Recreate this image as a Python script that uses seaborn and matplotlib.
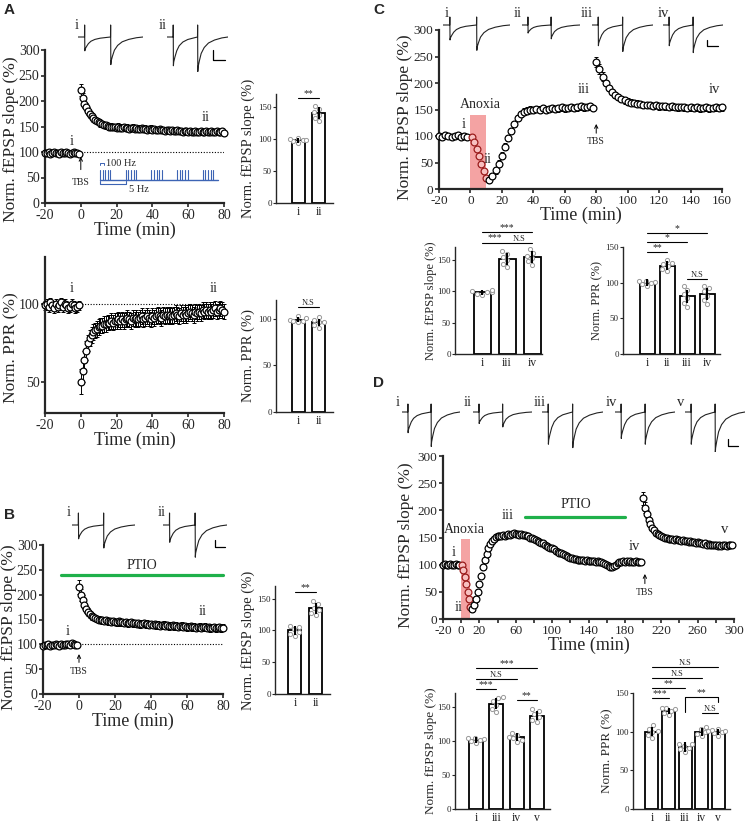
import numpy as np
import pandas as pd
import matplotlib
matplotlib.use("Agg")
import matplotlib.pyplot as plt
import seaborn as sns

# ---------------- DATA ----------------
# Panel A top: fEPSP slope time course (TBS at 0)
a_base_t = np.arange(-20, 0)
a_base = [99, 98, 100, 97, 99, 100, 98, 99, 97, 100, 99, 98, 100, 99, 97, 98, 100, 99, 98, 96]
a_post_t = np.arange(0, 81)
a_post = [222, 205, 195, 188, 180, 174, 170, 166, 162, 160,
          158, 156, 155, 153, 152, 151, 150, 150, 149, 149,
          148, 150, 148, 147, 149, 147, 148, 146, 147, 148,
          146, 147, 145, 146, 147, 145, 146, 144, 145, 146,
          144, 145, 143, 144, 145, 143, 144, 142, 143, 144,
          142, 143, 141, 142, 143, 141, 142, 140, 141, 142,
          140, 141, 139, 140, 141, 139, 140, 141, 139, 140,
          141, 139, 140, 141, 139, 140, 141, 139, 140, 141,
          138]
a_err = [4] * 20 + [12, 10, 9, 8, 8, 7, 7, 7, 6, 6] + [6] * 71

# Panel A bottom: PPR time course
p_base = [99, 100, 98, 101, 99, 97, 100, 98, 99, 101, 98, 100, 99, 97, 98, 100, 99, 97, 98, 99]
p_post = [50, 57, 64, 70, 75, 78, 80, 82, 83, 84,
          85, 86, 86, 87, 87, 88, 88, 89, 88, 89,
          89, 90, 89, 90, 89, 90, 91, 90, 89, 91,
          90, 91, 90, 91, 92, 90, 91, 92, 91, 90,
          92, 91, 92, 93, 92, 91, 93, 92, 93, 92,
          93, 92, 93, 94, 93, 92, 94, 93, 94, 93,
          94, 95, 94, 93, 95, 94, 95, 94, 96, 95,
          96, 95, 96, 95, 96, 97, 95, 96, 97, 96,
          95]
p_err = [3] * 20 + [8, 7, 6, 6, 5, 5, 5, 5, 5, 5] + [5] * 71

# Panel B: fEPSP slope with PTIO
b_base = [97, 99, 98, 100, 96, 99, 98, 101, 99, 97, 100, 98, 99, 101, 100, 98, 102, 100, 99, 98]
b_post = [215, 200, 190, 180, 172, 166, 161, 157, 155, 153,
          151, 150, 149, 148, 147, 148, 146, 147, 145, 146,
          145, 144, 146, 144, 145, 143, 144, 142, 143, 144,
          142, 143, 141, 142, 140, 141, 142, 140, 141, 139,
          140, 139, 140, 138, 139, 137, 138, 139, 137, 138,
          136, 137, 138, 136, 137, 135, 136, 137, 135, 136,
          134, 135, 136, 134, 135, 133, 134, 135, 133, 134,
          135, 133, 134, 132, 133, 134, 132, 133, 134, 132,
          133]
b_err = [4] * 20 + [14, 12, 10, 9, 8, 8, 7, 7, 7, 7] + [7] * 71

# Panel C: anoxia then TBS
c_base_t = np.arange(-20, 0, 2)
c_base = [100, 99, 101, 100, 98, 100, 101, 99, 100, 98]
c_anox_t = [1, 2.5, 4, 5.5, 7, 8.5, 10]
c_anox = [98, 88, 75, 62, 48, 34, 20]
c_rec_t = np.arange(12, 80, 2)
c_rec = [17, 24, 35, 48, 63, 80, 96, 110, 123, 134,
         142, 146, 148, 150, 149, 151, 150, 152, 150, 151,
         153, 151, 152, 154, 152, 153, 155, 153, 154, 156,
         154, 155, 157, 153]
c_tbs_t = np.arange(80, 161, 2)
c_tbs = [240, 226, 212, 200, 190, 183, 177, 173, 170, 167,
         165, 163, 162, 161, 160, 159, 159, 158, 157, 158,
         156, 157, 156, 155, 156, 155, 154, 155, 154, 153,
         154, 153, 154, 152, 153, 154, 152, 153, 154, 153,
         154]

# Panel D: anoxia, PTIO, TBS
d_base_t = np.arange(-20, 0, 2)
d_base = [100, 101, 99, 100, 102, 100, 99, 101, 100, 99]
d_anox_t = [1, 2.5, 4, 5.5, 7, 8.5, 10]
d_anox = [100, 90, 78, 64, 50, 36, 22]
d_rec_t = np.arange(12, 200, 2)
d_rec = [18, 25, 36, 50, 65, 80, 95, 108, 120, 130,
         138, 144, 148, 151, 152, 153, 152, 154, 153, 155,
         156, 155, 157, 158, 157, 156, 155, 156, 154, 155,
         153, 152, 150, 149, 147, 146, 144, 142, 140, 139,
         137, 135, 133, 131, 130, 128, 126, 124, 122, 121,
         119, 117, 116, 115, 113, 112, 111, 110, 109, 109,
         108, 108, 107, 108, 107, 106, 107, 106, 105, 106,
         105, 104, 103, 101, 99, 97, 96, 95, 97, 100,
         103, 104, 105, 106, 105, 106, 105, 106, 104, 105,
         106, 105, 104, 105]
d_tbs_t = np.arange(200, 300, 2)
d_tbs = [222, 205, 193, 183, 175, 168, 163, 159, 156, 154,
         152, 151, 150, 149, 148, 148, 147, 146, 147, 145,
         146, 144, 145, 143, 144, 142, 143, 141, 142, 140,
         141, 139, 140, 138, 139, 137, 138, 137, 136, 137,
         136, 135, 136, 135, 136, 137, 135, 136, 137, 136]

# Bar graphs: individual values and SEM
abar_cats = ["i", "ii"]
abar_vals = [[94, 96, 98, 100, 102, 98], [128, 133, 138, 142, 147, 152]]
abar_err = [4, 9]
apbar_vals = [[96, 98, 99, 101, 103, 97], [90, 93, 96, 99, 102, 96]]
apbar_err = [3, 4]
bbar_vals = [[92, 95, 98, 102, 106, 107], [125, 128, 132, 136, 142, 147]]
bbar_err = [7, 9]
cbar1_cats = ["i", "iii", "iv"]
cbar1_vals = [[94, 96, 98, 99, 101, 100], [138, 143, 149, 154, 159, 163], [142, 147, 152, 156, 160, 167]]
cbar1_err = [4, 9, 9]
cbar2_cats = ["i", "ii", "iii", "iv"]
cbar2_vals = [[96, 98, 100, 101, 102, 103], [116, 119, 123, 126, 128, 132],
              [66, 72, 78, 84, 90, 96], [70, 76, 82, 88, 92, 96]]
cbar2_err = [5, 6, 9, 8]
dbar1_cats = ["i", "iii", "iv", "v"]
dbar1_vals = [[96, 99, 101, 102, 104, 104], [142, 146, 152, 158, 162, 164],
              [98, 101, 104, 106, 109, 112], [128, 131, 135, 139, 143, 146]]
dbar1_err = [4, 8, 6, 7]
dbar2_cats = ["i", "ii", "iii", "iv", "v"]
dbar2_vals = [[92, 96, 99, 101, 104, 108], [121, 124, 127, 129, 130, 131],
              [74, 77, 79, 82, 84, 84], [94, 97, 99, 101, 103, 106], [95, 98, 100, 101, 102, 104]]
dbar2_err = [6, 4, 6, 5, 4]

# Example traces: (first, second) response amplitudes (arbitrary units)
tpl_t = [0.00, 0.10, 0.102, 0.105, 0.11, 0.13, 0.16, 0.20, 0.26, 0.34, 0.45,
         0.50, 0.502, 0.505, 0.51, 0.53, 0.56, 0.61, 0.68, 0.78, 0.90, 1.00]
tpl_s1 = [0, 0, 0, -1.15, -1.0, -0.8, -0.55, -0.35, -0.2, -0.1, -0.03] + [0] * 11
tpl_s2 = [0] * 11 + [0, 0, -1.15, -1.0, -0.8, -0.55, -0.35, -0.2, -0.1, -0.03, 0]
tpl_art = [0, 0, 1, 0, 0, 0, 0, 0, 0, 0, 0, 0, 1, 0, 0, 0, 0, 0, 0, 0, 0, 0]
amp_A = [(12, 24), (25, 30)]
amp_B = [(12, 20), (15, 28)]
amp_C = [(13, 22), (7, 12), (18, 23), (18, 24)]
amp_D = [(18, 30), (10, 13), (28, 31), (23, 28), (28, 36)]

# ---------------- STYLE ----------------
sns.set_style("ticks")
plt.rcParams["font.family"] = ["Liberation Serif", "DejaVu Serif"]
plt.rcParams["axes.linewidth"] = 1.4
plt.rcParams["axes.unicode_minus"] = False

W, H = 747, 823
fig = plt.figure(figsize=(7.47, 8.23), dpi=100)
GREEN = "#1fb04a"
PINK = "#f4a3a3"
BLUE = "#3d64b4"


def box(x0, x1, ytop, ybot, **kw):
    return fig.add_axes([x0 / W, 1 - ybot / H, (x1 - x0) / W, (ybot - ytop) / H], **kw)


def style_tc(ax, xlim, ylim, xt, yt, lw=1.6, ls=10):
    sns.despine(ax=ax)
    ax.set_xlim(*xlim)
    ax.set_ylim(*ylim)
    ax.set_xticks(xt)
    ax.set_yticks(yt)
    for s in ("left", "bottom"):
        ax.spines[s].set_linewidth(lw)
    ax.tick_params(length=3, width=1.2, labelsize=ls, pad=1)


def tc(ax, t, y, e, fc="white", ec="black"):
    ax.errorbar(t, y, yerr=e, fmt="none", ecolor="black", elinewidth=0.7,
                capsize=1.6, capthick=0.7, zorder=2, clip_on=False)
    sns.scatterplot(x=np.asarray(t, float), y=np.asarray(y, float), ax=ax, marker="o", s=24,
                    facecolor=fc, edgecolor=ec, linewidth=0.9, zorder=3,
                    legend=False, clip_on=False)


def bars(ax, cats, vals, errs, width, ylim, yt, xlim, ylabel, lfs, lx):
    df = pd.DataFrame({"cond": np.repeat(cats, [len(v) for v in vals]),
                       "val": np.concatenate(vals)})
    sns.barplot(data=df, x="cond", y="val", order=cats, errorbar=None, color="white",
                saturation=1, edgecolor="black", linewidth=1.3, width=width, ax=ax, zorder=1)
    sns.swarmplot(data=df, x="cond", y="val", order=cats, color="white", edgecolor="0.6",
                  linewidth=0.7, size=3, ax=ax, zorder=3)
    means = [np.mean(v) for v in vals]
    ax.errorbar(range(len(cats)), means, yerr=errs, fmt="none", ecolor="black",
                elinewidth=1.5, capsize=0, zorder=4)
    sns.despine(ax=ax)
    ax.set_ylim(*ylim)
    ax.set_yticks(yt)
    ax.set_xlim(*xlim)
    ax.set_xlabel("")
    ax.set_ylabel(ylabel, fontsize=lfs)
    ax.yaxis.set_label_coords(lx, 0.5)
    ax.spines["left"].set_linewidth(1.0)
    ax.spines["bottom"].set_linewidth(1.0)
    ax.tick_params(axis="y", length=2, width=0.8, labelsize=6.5, pad=1)
    ax.tick_params(axis="x", length=0, labelsize=8.5, pad=2)


def sig(ax, x1, x2, y, txt, fs=7):
    ax.plot([x1, x2], [y, y], color="black", lw=0.8, clip_on=False)
    ax.text((x1 + x2) / 2, y, txt, ha="center", va="bottom", fontsize=fs, clip_on=False)


def tbs(ax, x, y0, y1, ytxt):
    ax.annotate("", xy=(x, y1), xytext=(x, y0),
                arrowprops=dict(arrowstyle="->", lw=0.7, mutation_scale=6, color="black"))
    ax.text(x, ytxt, "TBS", ha="center", va="center", fontsize=7)


def trace(x0, x1, ybase, a1, a2, art=12):
    ax = box(x0, x1, ybase - 16, ybase + 40)
    ax.set_xlim(0, 1)
    ax.set_ylim(-40, 16)
    ax.axis("off")
    y = [a1 * s1 + a2 * s2 + art * ar for s1, s2, ar in zip(tpl_s1, tpl_s2, tpl_art)]
    sns.lineplot(x=tpl_t, y=y, ax=ax, color="#222222", lw=0.8, sort=False, estimator=None)


# ---------------- PANEL A top ----------------
ax = box(45, 224, 50, 203)
tc(ax, a_base_t, a_base, a_err[:20])
tc(ax, a_post_t, a_post, a_err[20:])
ax.plot([0, 80], [100, 100], ls=(0, (1, 1.5)), color="black", lw=0.8, zorder=1)
style_tc(ax, (-20, 80), (0, 300), range(-20, 81, 20), range(0, 301, 50))
ax.set_xlabel("Time (min)", fontsize=13, labelpad=0)
ax.set_ylabel("Norm. fEPSP slope (%)", fontsize=12.5)
ax.yaxis.set_label_coords(-0.145, 0.42)
ax.text(-5, 120, "i", ha="center", va="center", fontsize=10.5)
ax.text(70, 167, "ii", ha="center", va="center", fontsize=10.5)
tbs(ax, 0, 60, 96, 41)

ax = box(276, 333, 94, 203)
bars(ax, abar_cats, abar_vals, abar_err, 0.62, (0, 170), [0, 50, 100, 150], (-1.05, 1.67),
     "Norm. fEPSP slope (%)", 10.5, -0.37)
sig(ax, 0, 1, 164, "**")

# ---------------- PANEL A bottom ----------------
ax = box(45, 224, 257, 413)
tc(ax, a_base_t, p_base, p_err[:20])
tc(ax, a_post_t, p_post, p_err[20:])
ax.plot([-1, 80], [100, 100], ls=(0, (1, 1.5)), color="black", lw=0.8, zorder=1)
style_tc(ax, (-20, 80), (30, 130), range(-20, 81, 20), [50, 100])
ax.set_xlabel("Time (min)", fontsize=13, labelpad=0)
ax.set_ylabel("Norm. PPR (%)", fontsize=12.5)
ax.yaxis.set_label_coords(-0.145, 0.42)
ax.text(-5, 110, "i", ha="center", va="center", fontsize=10.5)
ax.text(74, 110, "ii", ha="center", va="center", fontsize=10.5)

ax = box(276, 333, 300, 412)
bars(ax, abar_cats, apbar_vals, apbar_err, 0.62, (0, 120), [0, 50, 100], (-1.05, 1.67),
     "Norm. PPR (%)", 10.5, -0.37)
sig(ax, 0, 1, 112, "N.S", fs=6)

# ---------------- PANEL B ----------------
ax = box(43, 223, 545, 694)
tc(ax, a_base_t, b_base, b_err[:20])
tc(ax, a_post_t, b_post, b_err[20:])
ax.plot([0, 80], [100, 100], ls=(0, (1, 1.5)), color="black", lw=0.8, zorder=1)
ax.plot([-10, 80], [240, 240], color=GREEN, lw=2.3, clip_on=False)
ax.text(35, 258, "PTIO", ha="center", va="center", fontsize=10)
style_tc(ax, (-20, 80), (0, 300), range(-20, 81, 20), range(0, 301, 50))
ax.set_xlabel("Time (min)", fontsize=13, labelpad=0)
ax.set_ylabel("Norm. fEPSP slope (%)", fontsize=12.5)
ax.yaxis.set_label_coords(-0.145, 0.45)
ax.text(-6, 125, "i", ha="center", va="center", fontsize=10.5)
ax.text(69, 167, "ii", ha="center", va="center", fontsize=10.5)
tbs(ax, 0, 58, 86, 46)

ax = box(275, 330, 586, 694)
bars(ax, abar_cats, bbar_vals, bbar_err, 0.62, (0, 170), [0, 50, 100, 150], (-0.95, 1.67),
     "Norm. fEPSP slope (%)", 10.5, -0.37)
sig(ax, 0, 1, 160, "**")

# ---------------- PANEL C ----------------
ax = box(439, 722, 30, 189)
ax.fill_between([0, 10], [0, 0], [140, 140], color=PINK, lw=0, zorder=0)
tc(ax, c_base_t, c_base, [4] * len(c_base))
tc(ax, c_anox_t, c_anox, [4] * len(c_anox), fc="#f7c0c0", ec="#9b1c1c")
tc(ax, c_rec_t, c_rec, [6] * len(c_rec))
tc(ax, c_tbs_t, c_tbs, [10, 9, 8] + [6] * (len(c_tbs) - 3))
style_tc(ax, (-20, 160), (0, 300), range(-20, 161, 20), range(0, 301, 50), ls=9.5)
ax.set_xlabel("Time (min)", fontsize=13, labelpad=0)
ax.set_ylabel("Norm. fEPSP slope (%)", fontsize=12.5)
ax.yaxis.set_label_coords(-0.093, 0.45)
ax.text(6.5, 160, "Anoxia", ha="center", va="center", fontsize=10)
ax.text(-4, 121, "i", ha="center", va="center", fontsize=10.5)
ax.text(11, 55, "ii", ha="center", va="center", fontsize=10.5)
ax.text(72, 187, "iii", ha="center", va="center", fontsize=10.5)
ax.text(155, 187, "iv", ha="center", va="center", fontsize=10.5)
tbs(ax, 80, 100, 128, 90)

ax = box(455, 542, 247, 354)
bars(ax, cbar1_cats, cbar1_vals, cbar1_err, 0.68, (0, 170), [0, 50, 100, 150], (-1.08, 2.4),
     "Norm. fEPSP slope (%)", 9, -0.21)
sig(ax, 0, 1, 177, "***")
sig(ax, 1, 2, 177, "N.S", fs=6)
sig(ax, 0, 2, 194, "***")

ax = box(623, 720, 247, 354)
bars(ax, cbar2_cats, cbar2_vals, cbar2_err, 0.75, (0, 150), [0, 50, 100, 150], (-1.2, 3.65),
     "Norm. PPR (%)", 9, -0.2)
sig(ax, 0, 1, 143, "**")
sig(ax, 0, 2, 157, "*")
sig(ax, 0, 3, 170, "*")
sig(ax, 2, 3, 105, "N.S", fs=6)

# ---------------- PANEL D ----------------
ax = box(443, 734, 456, 619)
ax.fill_between([0, 10], [0, 0], [147, 147], color=PINK, lw=0, zorder=0)
tc(ax, d_base_t, d_base, [4] * len(d_base))
tc(ax, d_anox_t, d_anox, [4] * len(d_anox), fc="#f7c0c0", ec="#9b1c1c")
tc(ax, d_rec_t, d_rec, [5] * len(d_rec))
tc(ax, d_tbs_t, d_tbs, [12, 10, 8] + [5] * (len(d_tbs) - 3))
ax.plot([70, 180], [188, 188], color=GREEN, lw=2.3)
ax.text(126, 210, "PTIO", ha="center", va="center", fontsize=10)
style_tc(ax, (-20, 300), (0, 300), [-20, 0, 20, 60, 100, 140, 180, 220, 260, 300], range(0, 301, 50), ls=9.5)
ax.set_xticks([40, 80, 120, 160, 200, 240, 280], minor=True)
ax.tick_params(which="minor", length=3, width=1.2)
ax.set_xlabel("Time (min)", fontsize=13, labelpad=0)
ax.set_ylabel("Norm. fEPSP slope (%)", fontsize=12.5)
ax.yaxis.set_label_coords(-0.1, 0.45)
ax.text(4, 165, "Anoxia", ha="center", va="center", fontsize=10)
ax.text(-8, 123, "i", ha="center", va="center", fontsize=10.5)
ax.text(-3, 22, "ii", ha="center", va="center", fontsize=10.5)
ax.text(51, 190, "iii", ha="center", va="center", fontsize=10.5)
ax.text(190, 133, "iv", ha="center", va="center", fontsize=10.5)
ax.text(290, 164, "v", ha="center", va="center", fontsize=10.5)
tbs(ax, 202, 60, 88, 48)

ax = box(455, 550, 693, 809)
bars(ax, dbar1_cats, dbar1_vals, dbar1_err, 0.7, (0, 170), [0, 50, 100, 150], (-1.03, 3.64),
     "Norm. fEPSP slope (%)", 9.5, -0.19)
sig(ax, 0, 1, 176, "***")
sig(ax, 0, 2, 191, "N.S", fs=6)
sig(ax, 0, 3, 207, "***")
sig(ax, 2, 3, 160, "**")

ax = box(633, 730, 693, 809)
bars(ax, dbar2_cats, dbar2_vals, dbar2_err, 0.78, (0, 150), [0, 50, 100, 150], (-1.14, 4.7),
     "Norm. PPR (%)", 9.5, -0.2)
sig(ax, 0, 1, 143, "***")
sig(ax, 0, 2, 156, "**")
sig(ax, 0, 3, 169, "N.S", fs=6)
sig(ax, 0, 4, 184, "N.S", fs=6)
ax.plot([2, 2, 4, 4], [125, 145, 145, 138], color="black", lw=0.8, clip_on=False)
ax.text(3, 145, "**", ha="center", va="bottom", fontsize=7)
sig(ax, 3, 4, 124, "N.S", fs=6)

# ---------------- example traces ----------------
for (a1, a2), (x0, x1) in zip(amp_A, [(78, 143), (167, 228)]):
    trace(x0, x1, 37, a1, a2)
for (a1, a2), (x0, x1) in zip(amp_B, [(72, 135), (163, 227)]):
    trace(x0, x1, 525, a1, a2)
for (a1, a2), (x0, x1) in zip(amp_C, [(443, 510), (522, 580), (592, 653), (663, 723)]):
    trace(x0, x1, 25, a1, a2, art=8)
for (a1, a2), (x0, x1) in zip(amp_D, [(402, 460), (473, 532), (542, 603), (615, 675), (685, 745)]):
    trace(x0, x1, 412, a1, a2, art=8)

# ---------------- overlay annotations ----------------
ov = fig.add_axes([0, 0, 1, 1], zorder=20)
ov.set_xlim(0, W)
ov.set_ylim(H, 0)
ov.axis("off")
ov.patch.set_alpha(0)
for txt, x, y in [("A", 4, 10), ("B", 4, 515), ("C", 373, 10), ("D", 373, 383)]:
    ov.text(x, y, txt, fontsize=11, fontweight="bold", family="Liberation Sans", va="center")
for txt, x, y in [("i", 77, 25), ("ii", 163, 25), ("i", 69, 513), ("ii", 162, 513),
                  ("i", 447, 13), ("ii", 518, 13), ("iii", 587, 13), ("iv", 663, 13),
                  ("i", 398, 402), ("ii", 468, 402), ("iii", 540, 402), ("iv", 611, 402), ("v", 681, 402)]:
    ov.text(x, y, txt, fontsize=10.5, ha="center", va="center")
for (x0, x1, y0, y1) in [(213, 225, 50, 60), (215, 225, 540, 547), (707, 718, 40, 46), (728, 738, 439, 446)]:
    ov.plot([x0, x0, x1], [y0, y1, y1], color="black", lw=0.9)

# TBS stimulation schematic (panel A)
ov.plot([100, 218], [180, 180], color=BLUE, lw=1.0)
for b in range(5):
    for p in range(5):
        xp = 100 + 25.7 * b + 2.6 * p
        ov.plot([xp, xp], [180, 170], color=BLUE, lw=0.8)
ov.plot([100, 100, 104, 104], [165, 163, 163, 165], color=BLUE, lw=0.7)
ov.text(106, 163, "100 Hz", fontsize=7.5, va="center", ha="left")
ov.plot([100, 100, 126, 126], [181, 184, 184, 181], color=BLUE, lw=0.8)
ov.text(129, 189, "5 Hz", fontsize=7.5, va="center", ha="left")

fig.savefig("out.png", dpi=100)
